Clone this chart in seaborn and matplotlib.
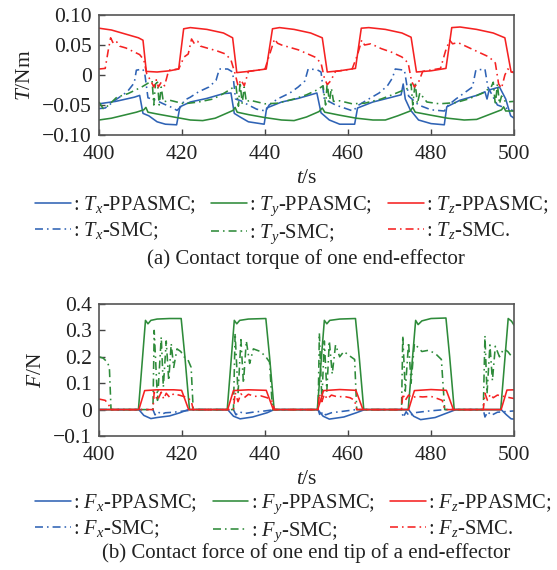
import numpy as np
import pandas as pd
import matplotlib
matplotlib.use("Agg")
import matplotlib.pyplot as plt
import seaborn as sns

# ---------------- data (a) contact torque ----------------
t_tz_pp = [400, 403, 406, 409.5, 410.6, 411.4, 414, 417, 419.2, 420.4, 422, 426, 430, 432.2, 433.2, 436, 440.3, 441.8, 443.5, 447, 451, 453.8, 455, 458, 461.8, 463.2, 465, 469, 473, 475.2, 476.5, 480, 483.6, 485, 487, 491, 495, 497.8, 499.3, 500]
v_tz_pp = [0.078, 0.075, 0.069, 0.062, 0.058, 0.006, 0.005, 0.007, 0.010, 0.077, 0.079, 0.076, 0.070, 0.062, 0.004, 0.006, 0.010, 0.077, 0.079, 0.076, 0.070, 0.062, 0.005, 0.007, 0.011, 0.078, 0.079, 0.076, 0.070, 0.063, 0.005, 0.007, 0.011, 0.079, 0.080, 0.076, 0.070, 0.062, 0.005, 0.004]

t_tz_smc = [400, 401.5, 402.2, 402.8, 403.5, 404.3, 405, 406.5, 408, 409.8, 410.8, 411.5, 412.5, 413.2, 413.8, 414.3, 415, 415.8, 416.8, 419.2, 420.5, 421.5, 422.3, 423, 423.8, 424.5, 426.5, 428.5, 430.5, 431.8, 432.8, 433.5, 434.2, 435, 436, 440, 441, 442.3, 443, 444, 446, 448, 450, 452, 453.5, 454.3, 455, 455.8, 457, 461, 462.3, 463.3, 464, 465.5, 468, 470.5, 473, 474.5, 475.3, 476, 477, 478, 482.3, 483.5, 484.5, 485.2, 486.5, 489, 491.5, 494, 495.5, 496.3, 497, 497.8, 498.5, 500]
v_tz_smc = [0.010, 0.011, 0.040, 0.062, 0.052, 0.055, 0.048, 0.045, 0.040, 0.034, 0.025, 0.002, -0.010, -0.020, -0.008, -0.020, -0.012, -0.018, 0.008, 0.010, 0.030, 0.035, 0.060, 0.052, 0.056, 0.048, 0.044, 0.040, 0.035, 0.025, 0.002, -0.018, -0.008, -0.018, 0.006, 0.010, 0.032, 0.060, 0.053, 0.050, 0.046, 0.042, 0.036, 0.030, 0.020, -0.005, -0.016, -0.010, 0.006, 0.010, 0.034, 0.058, 0.050, 0.052, 0.044, 0.038, 0.030, 0.020, -0.010, -0.020, -0.012, 0.006, 0.011, 0.040, 0.058, 0.052, 0.054, 0.046, 0.038, 0.030, 0.020, -0.015, -0.022, 0.000, 0.010, 0.004]

t_tx_pp = [400, 404, 408.5, 409.8, 410.6, 412, 414, 416, 418.7, 419.5, 422, 426, 430, 431.8, 432.6, 434, 436, 439.8, 440.4, 444, 448, 452.5, 453.5, 455.5, 458, 461.6, 462.3, 466, 470, 472.8, 473.3, 473.8, 475, 477, 480, 483.2, 483.8, 487, 491, 493, 493.5, 494, 496.5, 498, 499.2, 500]
v_tx_pp = [-0.048, -0.044, -0.037, -0.034, -0.064, -0.068, -0.078, -0.082, -0.083, -0.053, -0.045, -0.039, -0.031, -0.030, -0.064, -0.070, -0.078, -0.082, -0.055, -0.045, -0.039, -0.030, -0.063, -0.075, -0.082, -0.082, -0.055, -0.045, -0.038, -0.033, -0.015, -0.040, -0.058, -0.075, -0.081, -0.083, -0.053, -0.042, -0.034, -0.028, -0.040, -0.025, -0.020, -0.040, -0.068, -0.072]

t_tx_smc = [400, 401.5, 404.3, 406.8, 408.5, 409, 410.5, 411, 411.8, 413.7, 415.5, 417.2, 418.8, 419.7, 420.6, 422, 424, 426.5, 428.2, 429, 431, 432.2, 432.9, 434.2, 436, 438, 440.2, 441, 443, 446, 448, 449.6, 450.4, 452.5, 453.5, 454.3, 457, 461.2, 462.6, 465, 467.5, 469.5, 470.7, 471.4, 473.6, 474.6, 477, 480, 483.2, 484.2, 486, 488, 490, 490.8, 493, 493.7, 496, 498, 500]
v_tx_smc = [-0.056, -0.055, -0.040, -0.028, -0.013, 0.008, 0.010, 0.004, -0.038, -0.042, -0.048, -0.053, -0.059, -0.053, -0.042, -0.037, -0.028, -0.020, -0.009, 0.010, 0.010, 0.005, -0.040, -0.043, -0.050, -0.057, -0.060, -0.050, -0.040, -0.030, -0.020, -0.010, 0.010, 0.009, 0.005, -0.040, -0.050, -0.060, -0.050, -0.040, -0.030, -0.018, -0.005, 0.010, 0.008, -0.035, -0.050, -0.058, -0.060, -0.050, -0.040, -0.030, -0.020, 0.008, 0.010, -0.020, -0.050, -0.055, -0.060]

t_ty_pp = [400, 403, 406, 409, 410.8, 411.3, 411.8, 414, 418, 422, 425, 428, 431, 432.3, 432.8, 433.3, 436, 440, 444, 447, 450, 453, 453.8, 454.4, 458, 462, 466, 469, 472, 475, 475.6, 476.2, 480, 484, 488, 491, 494, 497, 497.5, 498, 500]
v_ty_pp = [-0.075, -0.072, -0.067, -0.062, -0.058, -0.054, -0.062, -0.065, -0.070, -0.075, -0.076, -0.072, -0.063, -0.059, -0.054, -0.062, -0.066, -0.071, -0.075, -0.076, -0.070, -0.061, -0.055, -0.062, -0.067, -0.072, -0.075, -0.075, -0.068, -0.060, -0.054, -0.062, -0.067, -0.072, -0.075, -0.074, -0.066, -0.058, -0.053, -0.060, -0.060]

t_ty_smc = [400, 401, 402, 404.3, 407, 410.3, 412.2, 412.8, 413.2, 413.6, 414.1, 414.5, 415, 415.5, 417, 420.5, 424, 427.5, 430, 431.8, 433, 433.6, 434, 434.5, 435, 435.5, 436.3, 440, 443, 447, 450, 452.5, 454, 454.6, 455, 455.5, 456, 456.5, 458, 461, 464, 468, 471, 474.5, 475.2, 475.6, 476.2, 476.7, 477.3, 479, 482, 486, 489, 492.5, 494.5, 495, 495.5, 496, 496.5, 497, 498, 500]
v_ty_smc = [-0.045, -0.056, -0.052, -0.037, -0.031, -0.020, -0.012, -0.010, -0.050, -0.015, -0.012, -0.050, -0.020, -0.045, -0.042, -0.048, -0.045, -0.040, -0.031, -0.023, -0.018, -0.052, -0.012, -0.048, -0.020, -0.045, -0.042, -0.048, -0.047, -0.040, -0.033, -0.025, -0.018, -0.050, -0.012, -0.046, -0.022, -0.044, -0.043, -0.048, -0.047, -0.040, -0.032, -0.022, -0.015, -0.050, -0.012, -0.048, -0.030, -0.045, -0.048, -0.046, -0.040, -0.030, -0.020, -0.012, -0.050, -0.015, -0.048, -0.035, -0.045, -0.044]

# ---------------- data (b) contact force ----------------
t_fy_pp = [400, 409.5, 411.2, 411.8, 412.5, 414, 417, 419.8, 420.7, 421.8, 430.9, 432.6, 433.2, 433.9, 436, 440.2, 441.1, 442.2, 452.6, 454.3, 454.9, 455.6, 458, 461.8, 462.7, 463.8, 474.5, 476.3, 476.9, 477.8, 480, 483.6, 484.5, 485.6, 496.8, 498.6, 499.4, 500]
v_fy_pp = [0, 0, 0.338, 0.325, 0.338, 0.343, 0.345, 0.345, 0.2, 0, 0, 0.338, 0.325, 0.338, 0.343, 0.345, 0.2, 0, 0, 0.338, 0.325, 0.338, 0.343, 0.345, 0.2, 0, 0, 0.338, 0.322, 0.336, 0.345, 0.347, 0.2, 0, 0, 0.345, 0.335, 0.32]

t_fy_smc = [400, 401, 402, 402.5, 402.9, 413, 413.3, 414.1, 415, 415.5, 416.2, 416.8, 417.4, 418, 418.8, 419.7, 420.5, 421.4, 422.2, 422.7, 432.4, 432.8, 433.5, 434.2, 434.8, 435.5, 436.3, 437.2, 438.9, 440.2, 441.1, 441.8, 452.8, 453.1, 453.7, 454.3, 454.9, 455.5, 456.2, 457, 458, 459, 460.7, 461.6, 462.1, 472.9, 473.2, 473.8, 474.6, 475.2, 476, 477.8, 479.5, 481.2, 482.5, 483.3, 492.6, 493, 493.5, 494.2, 494.8, 495.5, 496.5, 497.5, 498.5, 499.5, 500]
v_fy_smc = [0.2, 0.195, 0.18, 0.16, 0, 0, 0.3, 0.035, 0.275, 0.085, 0.26, 0.11, 0.25, 0.16, 0.23, 0.22, 0.2, 0.19, 0.16, 0, 0, 0.29, 0.06, 0.265, 0.1, 0.26, 0.175, 0.23, 0.22, 0.2, 0.18, 0, 0, 0.29, 0.035, 0.26, 0.07, 0.26, 0.135, 0.245, 0.2, 0.22, 0.2, 0.19, 0, 0, 0.28, 0.07, 0.255, 0.1, 0.25, 0.22, 0.225, 0.21, 0.19, 0, 0, 0.28, 0.06, 0.245, 0.11, 0.24, 0.2, 0.23, 0.22, 0.2, 0.2]

t_fz_pp = [400, 409.6, 411.0, 414, 418, 419.9, 421.6, 431.0, 432.4, 436, 440.3, 442.0, 452.7, 454.1, 458, 461.9, 463.6, 474.6, 476.0, 480, 483.7, 485.4, 496.9, 498.3, 500]
v_fz_pp = [0, 0, 0.072, 0.075, 0.075, 0.073, 0, 0, 0.072, 0.075, 0.073, 0, 0, 0.072, 0.076, 0.073, 0, 0, 0.072, 0.076, 0.073, 0, 0, 0.074, 0.075]

t_fz_smc = [400, 401.5, 402.3, 402.8, 413.0, 413.3, 414.1, 415.0, 415.6, 416.2, 417.0, 418.0, 419.5, 421.0, 422.2, 422.7, 432.4, 432.8, 433.5, 434.2, 435.0, 436.0, 437.5, 439.0, 440.5, 441.6, 442.3, 452.8, 453.1, 453.7, 454.3, 455.0, 456.0, 457.5, 459.0, 460.5, 461.6, 462.1, 472.9, 473.2, 473.8, 474.6, 475.4, 476.5, 478.0, 480.0, 481.5, 482.7, 483.3, 492.6, 493.0, 493.6, 494.3, 495.0, 496.0, 497.5, 499.0, 500]
v_fz_smc = [0.04, 0.035, 0.02, 0, 0, 0.066, 0.035, 0.066, 0.04, 0.062, 0.047, 0.06, 0.054, 0.047, 0.035, 0, 0, 0.065, 0.03, 0.06, 0.045, 0.058, 0.05, 0.052, 0.045, 0.035, 0, 0, 0.06, 0.03, 0.058, 0.04, 0.055, 0.048, 0.05, 0.045, 0.035, 0, 0, 0.06, 0.035, 0.055, 0.045, 0.05, 0.048, 0.05, 0.042, 0.035, 0, 0, 0.062, 0.035, 0.058, 0.045, 0.055, 0.05, 0.045, 0.042]

t_fx_pp = [400, 409.6, 410.8, 412.5, 414, 417, 419.5, 421.5, 431.0, 432.4, 434, 437, 440.5, 442.2, 452.7, 454.0, 455.5, 459, 462, 464.0, 474.6, 475.8, 477.5, 481, 484, 486.0, 496.9, 498.2, 499.3, 500]
v_fx_pp = [0, 0, -0.022, -0.034, -0.03, -0.024, -0.012, 0, 0, -0.025, -0.035, -0.028, -0.012, 0, 0, -0.025, -0.036, -0.028, -0.012, 0, 0, -0.025, -0.038, -0.03, -0.012, 0, 0, -0.02, -0.035, -0.036]

t_fx_smc = [400, 413.0, 413.5, 414.2, 415, 416, 418, 420, 422.5, 423, 432.4, 433, 433.8, 435, 437, 440, 442.3, 452.8, 453.3, 453.9, 454.6, 456, 459, 462.0, 472.9, 473.3, 474, 474.8, 476, 479, 483.3, 492.6, 493, 493.7, 494.5, 496, 500]
v_fx_smc = [0, 0, -0.02, -0.008, -0.018, -0.012, -0.01, -0.006, -0.002, 0, 0, -0.02, -0.008, -0.015, -0.01, -0.005, 0, 0, -0.025, -0.008, -0.02, -0.012, -0.006, 0, 0, -0.03, -0.008, -0.025, -0.012, -0.006, 0, 0, -0.028, -0.008, -0.022, -0.01, -0.005]

x_ticks = [400, 420, 440, 460, 480, 500]
x_tick_labels = ["400", "420", "440", "460", "480", "500"]
yt_a = [0.10, 0.05, 0, -0.05, -0.10]
yt_a_labels = ["0.10", "0.05", "0", "\u22120.05", "\u22120.10"]
yt_b = [0.4, 0.3, 0.2, 0.1, 0, -0.1]
yt_b_labels = ["0.4", "0.3", "0.2", "0.1", "0", "\u22120.1"]

labels_a = [r": $T_x$-PPASMC;", r": $T_x$-SMC;", r": $T_y$-PPASMC;", r": $T_y$-SMC;", r": $T_z$-PPASMC;", r": $T_z$-SMC."]
labels_b = [r": $F_x$-PPASMC;", r": $F_x$-SMC;", r": $F_y$-PPASMC;", r": $F_y$-SMC;", r": $F_z$-PPASMC;", r": $F_z$-SMC."]
caption_a = "(a) Contact torque of one end-effector"
caption_b = "(b) Contact force of one end tip of a end-effector"

# ---------------- style ----------------
sns.set_style("ticks")
plt.rcParams["font.family"] = ["Liberation Serif", "DejaVu Serif"]
plt.rcParams["mathtext.fontset"] = "custom"
plt.rcParams["mathtext.rm"] = "Liberation Serif"
plt.rcParams["mathtext.it"] = "Liberation Serif:italic"
plt.rcParams["axes.unicode_minus"] = True

BLUE = "#2f63b5"
GREEN = "#2e8b3a"
RED = "#f52222"
DASHDOT = (0, (5, 2.5, 1, 2.5))
FS = 15.5
FS_LEG = 14.8
FS_CAP = 15

W, H = 557, 570
fig = plt.figure(figsize=(W / 100, H / 100), dpi=100)

def box(l, t, r, b):
    return [l / W, 1 - b / H, (r - l) / W, (b - t) / H]

ax1 = fig.add_axes(box(99, 15, 514, 135))
ax2 = fig.add_axes(box(99, 304, 514, 436))

def draw(ax, series):
    handles = []
    for t, v, c, ls in series:
        df = pd.DataFrame({"t": t, "v": v})
        sns.lineplot(data=df, x="t", y="v", ax=ax, color=c, linestyle=ls,
                     linewidth=1.15, estimator=None, sort=False, legend=False)
        handles.append(ax.lines[-1])
    return handles

series_a = [
    (t_tx_pp, v_tx_pp, BLUE, "-"), (t_tx_smc, v_tx_smc, BLUE, DASHDOT),
    (t_ty_pp, v_ty_pp, GREEN, "-"), (t_ty_smc, v_ty_smc, GREEN, DASHDOT),
    (t_tz_pp, v_tz_pp, RED, "-"), (t_tz_smc, v_tz_smc, RED, DASHDOT),
]
series_b = [
    (t_fx_pp, v_fx_pp, BLUE, "-"), (t_fx_smc, v_fx_smc, BLUE, DASHDOT),
    (t_fy_pp, v_fy_pp, GREEN, "-"), (t_fy_smc, v_fy_smc, GREEN, DASHDOT),
    (t_fz_pp, v_fz_pp, RED, "-"), (t_fz_smc, v_fz_smc, RED, DASHDOT),
]

h_a = draw(ax1, series_a)
h_b = draw(ax2, series_b)

for ax, yt, ytl, ylim, ylab in [
    (ax1, yt_a, yt_a_labels, (-0.10, 0.10), r"$T$/Nm"),
    (ax2, yt_b, yt_b_labels, (-0.10, 0.40), r"$F$/N"),
]:
    ax.set_xlim(400, 500)
    ax.set_ylim(*ylim)
    ax.set_xticks(x_ticks)
    ax.set_xticklabels(x_tick_labels)
    ax.set_yticks(yt)
    ax.set_yticklabels(ytl)
    ax.tick_params(direction="in", length=4, width=1, colors="#444444",
                   labelcolor="#222222", labelsize=FS)
    ax.tick_params(axis="x", pad=7)
    ax.tick_params(axis="y", pad=5)
    for s in ax.spines.values():
        s.set_color("#555555")
        s.set_linewidth(1.2)
        s.set_visible(True)
    ax.set_xlabel(r"$t$/s", fontsize=FS, color="#222222", labelpad=4)
    ax.set_ylabel(ylab, fontsize=FS, color="#222222", labelpad=5)

def legend(handles, labels, top_px):
    lg = fig.legend(handles, labels, loc="upper left",
                    bbox_to_anchor=(35 / W, 1 - top_px / H), ncol=3,
                    frameon=False, fontsize=FS_LEG, handlelength=1.75,
                    handletextpad=0.1, columnspacing=0.75, labelspacing=0.22,
                    borderpad=0, borderaxespad=0)
    for txt in lg.get_texts():
        txt.set_color("#222222")
    return lg

legend(h_a, labels_a, 194)
legend(h_b, labels_b, 492)

fig.text(306 / W, 1 - 259 / H, caption_a, ha="center", va="center",
         fontsize=FS_CAP, color="#222222")
fig.text(306 / W, 1 - 553 / H, caption_b, ha="center", va="center",
         fontsize=FS_CAP, color="#222222")

fig.savefig("out.png", dpi=100)
